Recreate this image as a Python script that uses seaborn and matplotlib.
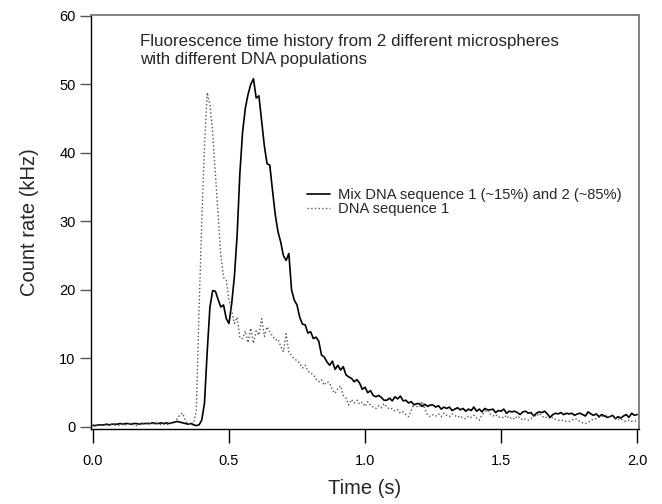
import numpy as np
import pandas as pd
import matplotlib
matplotlib.use("Agg")
import matplotlib.pyplot as plt
import seaborn as sns

# Datos (muestreo cada 0.01 s, de 0 a 2 s)
tiempo = np.round(np.arange(0, 201) * 0.01, 2)

mezcla = [
    0.2, 0.2, 0.3, 0.3, 0.3, 0.4, 0.3, 0.4, 0.4, 0.4,
    0.5, 0.4, 0.5, 0.5, 0.4, 0.5, 0.5, 0.4, 0.5, 0.5,
    0.5, 0.5, 0.6, 0.5, 0.5, 0.6, 0.5, 0.6, 0.5, 0.6,
    0.7, 0.8, 0.7, 0.6, 0.5, 0.4, 0.5, 0.3, 0.2, 0.3,
    1.0, 3.5, 11.0, 17.5, 19.9, 19.8, 18.6, 17.5, 17.8, 15.8,
    15.1, 18.0, 22.0, 28.0, 37.0, 43.0, 46.5, 48.5, 50.0, 50.8,
    48.0, 48.3, 44.7, 41.0, 38.4, 38.2, 34.5, 31.0, 28.5, 27.0,
    25.0, 24.3, 25.3, 20.0, 18.5, 17.8, 16.0, 15.0, 14.9, 13.7,
    13.9, 12.9, 13.1, 12.5, 10.5, 10.2, 9.5, 9.0, 9.6, 8.4,
    9.0, 8.3, 8.8, 7.6, 7.3, 7.1, 6.6, 6.9, 6.4, 5.5,
    5.8, 5.0, 5.3, 4.6, 4.4, 4.6, 4.3, 3.9, 3.9, 4.2,
    3.8, 4.4, 4.1, 4.5, 3.8, 3.9, 3.5, 3.7, 3.2, 3.4,
    3.4, 3.0, 3.3, 3.0, 3.2, 3.2, 2.9, 3.1, 2.6, 2.9,
    2.7, 2.9, 2.4, 2.6, 2.8, 2.5, 2.7, 2.3, 2.6, 2.4,
    2.9, 2.3, 2.6, 2.2, 2.7, 2.5, 2.5, 2.6, 2.1, 2.4,
    2.3, 2.6, 2.0, 2.3, 2.2, 2.3, 2.1, 1.8, 2.2, 2.3,
    2.0, 2.1, 1.6, 2.0, 2.2, 2.1, 2.3, 1.9, 1.4, 1.8,
    2.0, 1.9, 2.1, 1.8, 2.0, 1.9, 2.0, 1.7, 1.9, 2.0,
    1.8, 1.6, 2.2, 1.9, 1.7, 1.9, 1.5, 1.8, 1.6, 1.4,
    1.5, 1.7, 1.2, 1.5, 1.3, 1.6, 1.8, 1.4, 2.0, 1.7,
    1.8,
]

secuencia1 = [
    0.3, 0.3, 0.2, 0.3, 0.3, 0.2, 0.3, 0.4, 0.3, 0.2,
    0.3, 0.4, 0.3, 0.5, 0.4, 0.3, 0.2, 0.4, 0.5, 0.4,
    0.6, 0.5, 0.4, 0.6, 0.5, 0.3, 0.4, 0.3, 0.5, 0.6,
    0.8, 1.2, 1.8, 2.0, 0.9, 0.4, 0.6, 0.5, 2.5, 17.0,
    30.0, 41.0, 48.8, 47.0, 43.0, 37.0, 31.0, 25.0, 21.8, 21.4,
    18.5, 17.0, 15.1, 16.0, 13.0, 12.9, 14.0, 12.3, 14.4, 12.2,
    14.0, 13.4, 15.8, 13.2, 14.6, 13.9, 13.3, 12.7, 12.8, 11.8,
    11.0, 13.6, 11.0, 10.4, 9.9, 9.7, 9.3, 8.6, 9.0, 8.1,
    7.9, 7.6, 7.0, 6.6, 6.9, 6.1, 6.6, 6.4, 5.4, 4.9,
    5.6, 6.0, 4.6, 4.2, 3.2, 4.0, 3.5, 3.9, 3.3, 3.6,
    3.0, 3.7, 3.2, 2.9, 2.7, 3.1, 2.8, 3.4, 2.9, 2.6,
    2.7, 2.3, 2.5, 2.0, 2.2, 1.8, 1.5, 2.4, 3.4, 3.0,
    2.9, 3.7, 2.6, 1.7, 1.5, 1.8, 1.6, 1.9, 1.5, 2.0,
    1.7, 1.5, 1.9, 1.7, 1.4, 1.6, 1.3, 1.2, 1.6, 1.4,
    1.7, 1.3, 1.0, 1.8, 2.2, 2.5, 1.9, 1.6, 1.8, 1.4,
    1.5, 1.3, 1.7, 1.2, 1.4, 1.1, 1.6, 1.3, 1.0, 1.2,
    1.0, 1.2, 1.9, 1.5, 2.0, 1.6, 1.3, 1.5, 1.2, 1.4,
    1.1, 1.0, 0.9, 1.0, 0.8, 0.8, 1.0, 1.2, 1.1, 0.8,
    0.6, 0.5, 0.7, 0.9, 1.2, 1.2, 1.4, 1.5, 1.7, 1.7,
    1.4, 1.6, 1.3, 1.1, 1.2, 0.9, 0.8, 1.0, 0.8, 0.9,
    0.8,
]

etiqueta_mezcla = "Mix DNA sequence 1 (~15%) and 2 (~85%)"
etiqueta_seq1 = "DNA sequence 1"
titulo = "Fluorescence time history from 2 different microspheres\nwith different DNA populations"

sns.set_theme(style="ticks")
plt.rcParams['font.family'] = ['Liberation Sans', 'DejaVu Sans']

fig = plt.figure(figsize=(6.62, 5.04), dpi=100)
ax = fig.add_axes([0.1375, 0.1488, 0.8278, 0.8214])

sns.lineplot(x=tiempo, y=mezcla, ax=ax, color='black', linewidth=1.2,
             label=etiqueta_mezcla)
sns.lineplot(x=tiempo, y=secuencia1, ax=ax, color='#555555', linewidth=1.0,
             linestyle=':', label=etiqueta_seq1)

ax.set_xlim(-0.007, 2.007)
ax.set_ylim(-0.3, 60.1)
ax.set_xticks([0.0, 0.5, 1.0, 1.5, 2.0])
ax.set_xticklabels(['0.0', '0.5', '1.0', '1.5', '2.0'])
ax.set_yticks([0, 10, 20, 30, 40, 50, 60])

ax.set_xlabel('Time (s)', fontsize=14.5, labelpad=8)
ax.set_ylabel('Count rate (kHz)', fontsize=14.5, labelpad=15)
ax.tick_params(axis='x', direction='out', length=10, width=1, labelsize=10.5,
               pad=8, color='black', labelcolor='black')
ax.tick_params(axis='y', direction='out', length=8, width=1, labelsize=10.5,
               pad=3, color='#555555', labelcolor='black')

for lado in ['left', 'bottom']:
    ax.spines[lado].set_color('black')
    ax.spines[lado].set_linewidth(1.0)
for lado in ['top', 'right']:
    ax.spines[lado].set_color('#777777')
    ax.spines[lado].set_linewidth(1.3)

ax.text(0.089, 0.955, titulo, transform=ax.transAxes, fontsize=12.2,
        ha='left', va='top', linespacing=1.28)

ax.legend(loc='upper left', bbox_to_anchor=(0.394, 0.582), frameon=False,
          fontsize=10.6, handlelength=1.6, handletextpad=0.5,
          labelspacing=0.0, borderpad=0, borderaxespad=0)

fig.savefig('out.png', dpi=100)
